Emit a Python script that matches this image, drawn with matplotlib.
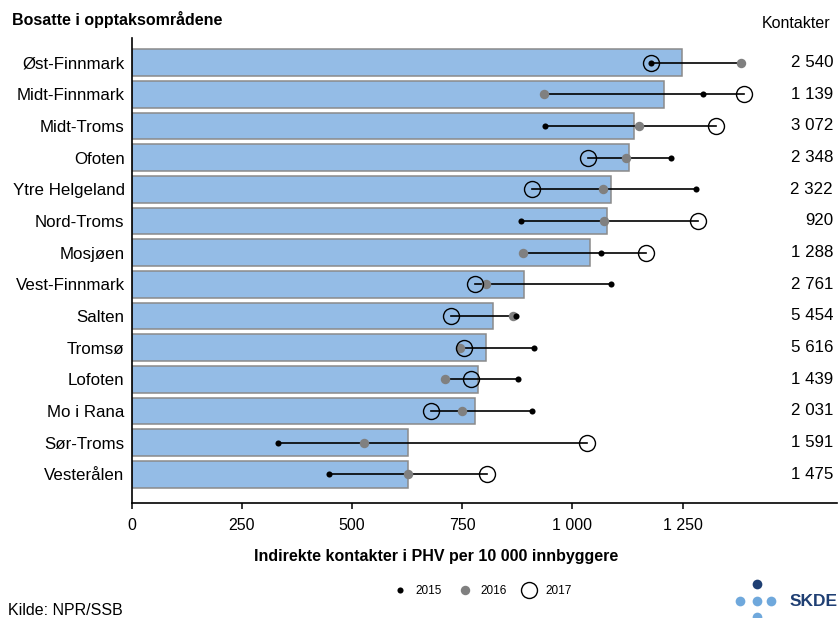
import numpy as np
import matplotlib
matplotlib.use("Agg")
import matplotlib.pyplot as plt
from matplotlib import transforms
from matplotlib.lines import Line2D
from matplotlib.ticker import FuncFormatter

plt.rcParams['font.family'] = ['Liberation Sans', 'DejaVu Sans']

# Indirekte kontakter i PHV per 10 000 innbyggere, per opptaksområde
omrader = ["Øst-Finnmark", "Midt-Finnmark", "Midt-Troms", "Ofoten", "Ytre Helgeland",
           "Nord-Troms", "Mosjøen", "Vest-Finnmark", "Salten", "Tromsø", "Lofoten",
           "Mo i Rana", "Sør-Troms", "Vesterålen"]
snitt = [1248, 1208, 1140, 1128, 1088, 1079, 1040, 891, 820, 804, 786, 778, 628, 626]
rate_2015 = [1179, 1297, 938, 1223, 1281, 883, 1064, 1088, 871, 913, 876, 908, 332, 448]
rate_2016 = [1382, 936, 1150, 1121, 1070, 1072, 887, 804, 866, 745, 710, 749, 527, 626]
rate_2017 = [1178, 1390, 1326, 1035, 909, 1284, 1167, 780, 724, 754, 769, 680, 1032, 806]
kontakter = [2540, 1139, 3072, 2348, 2322, 920, 1288, 2761, 5454, 5616, 1439, 2031, 1591, 1475]

W, H = 838, 618
fig = plt.figure(figsize=(W / 100, H / 100), dpi=100)
ax = fig.add_axes([131.5 / W, 1 - 502.7 / H, (837 - 131.5) / W, (502.7 - 38.3) / H])

y = np.arange(len(omrader))
ax.barh(y, snitt, height=0.84, color="#94BCE6", edgecolor="#8a8a8a", linewidth=1.1, zorder=2)

# linje fra laveste til høyeste år
for i in range(len(omrader)):
    vals = [rate_2015[i], rate_2016[i], rate_2017[i]]
    ax.plot([min(vals), max(vals)], [y[i], y[i]], color="black", lw=1.2, zorder=3)

ax.plot(rate_2016, y, "o", color="#808080", ms=6.8, mew=0, zorder=4)
ax.plot(rate_2015, y, "o", color="black", ms=4.4, mew=0, zorder=5)
ax.plot(rate_2017, y, "o", mfc="none", mec="black", ms=11.5, mew=1.0, zorder=6)

ax.set_xlim(0, 1600)
ax.set_ylim(13.9, -0.77)
ax.set_xticks([0, 250, 500, 750, 1000, 1250])
ax.xaxis.set_major_formatter(FuncFormatter(lambda v, p: f"{int(v):,}".replace(",", " ")))
ax.set_yticks(y)
ax.set_yticklabels(omrader)
ax.tick_params(axis="y", length=0, pad=5, labelsize=12.2)
ax.tick_params(axis="x", length=4.3, width=1.1, pad=7, labelsize=11.5, direction="out")
for s in ["top", "right"]:
    ax.spines[s].set_visible(False)
ax.spines["left"].set_linewidth(1.2)
ax.spines["bottom"].set_linewidth(1.2)

# antall kontakter i høyre kolonne
trans = transforms.blended_transform_factory(fig.transFigure, ax.transData)
for i, k in enumerate(kontakter):
    ax.text(833 / W, y[i], f"{k:,}".replace(",", " "), transform=trans,
            ha="right", va="center", fontsize=12.2)
fig.text(830 / W, 1 - 24 / H, "Kontakter", ha="right", va="center", fontsize=11.5)

fig.text(12 / W, 1 - 19 / H, "Bosatte i opptaksområdene", ha="left", va="center",
         fontsize=11.5, fontweight="bold")
fig.text(436 / W, 1 - 556 / H, "Indirekte kontakter i PHV per 10 000 innbyggere",
         ha="center", va="center", fontsize=11.5, fontweight="bold")
fig.text(8 / W, 1 - 610.7 / H, "Kilde: NPR/SSB", ha="left", va="center", fontsize=11.5)

handles = [
    Line2D([], [], ls="none", marker="o", color="black", ms=4.4, mew=0),
    Line2D([], [], ls="none", marker="o", color="#808080", ms=6.8, mew=0),
    Line2D([], [], ls="none", marker="o", mfc="none", mec="black", ms=11.5, mew=1.0),
]
fig.legend(handles, ["2015", "2016", "2017"], loc="center", bbox_to_anchor=(481 / W, 1 - 591 / H),
           ncol=3, frameon=False, fontsize=8.5, handletextpad=0.55, columnspacing=1.1,
           handlelength=1.6)

# SKDE-logo nede til høyre
lax = fig.add_axes([0, 0, 1, 1])
lax.set_xlim(0, W)
lax.set_ylim(H, 0)
lax.axis("off")
lax.plot([756.7], [584], "o", color="#1F3F73", ms=7, mew=0)
lax.plot([740, 757, 771], [600.7] * 3, "o", color="#6FA8DC", ms=7, mew=0)
lax.plot([757], [617], "o", color="#6FA8DC", ms=7, mew=0, clip_on=False)
lax.text(790, 601, "SKDE", color="#1F3F73", fontsize=12.5, fontweight="bold",
         ha="left", va="center")

fig.savefig("out.png", dpi=100)
